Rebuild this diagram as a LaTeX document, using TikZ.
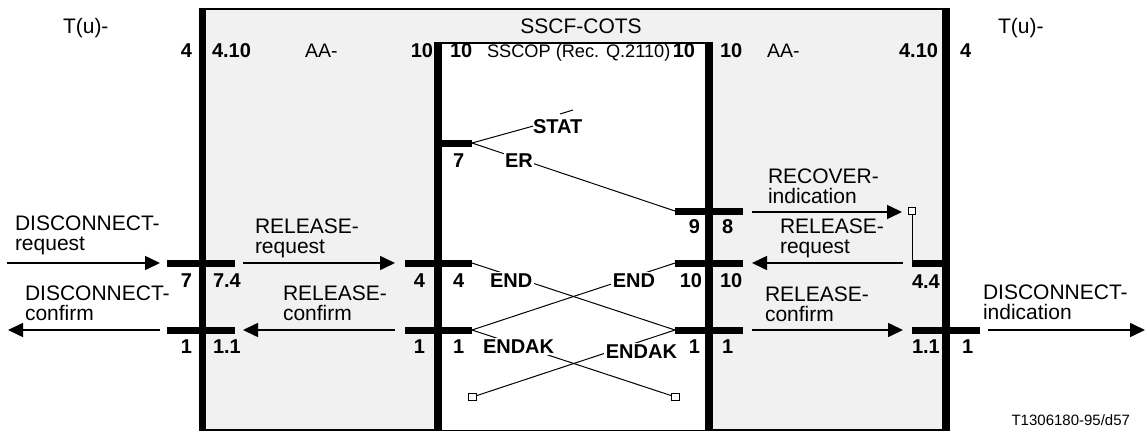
\documentclass[tikz,border=0pt]{standalone}
\usepackage{fontspec}
\setmainfont{Liberation Sans}
\usetikzlibrary{arrows.meta}
\definecolor{boxgray}{RGB}{241,241,241}
\newcommand{\twoln}[2]{\vbox{\hbox{#1}\hbox{#2}}}
\begin{document}
\begin{tikzpicture}[x=1pt,y=-1pt,
  every node/.style={inner sep=0pt,outer sep=0pt},
  reg/.style={font=\fontsize{21}{19.5}\selectfont},
  num/.style={font=\fontsize{20}{18}\selectfont\bfseries},
  lw/.style={anchor=base west},
  le/.style={anchor=base east},
  bar/.style={line width=7.5pt},
  stub/.style={line width=7pt},
  sig/.style={line width=1.6pt,-{Triangle[length=15pt,width=14pt]}},
  link/.style={line width=1pt},
  mask/.style={fill=white,inner sep=1.5pt},
  sq/.style={draw,fill=white,line width=0.9pt,minimum size=7.5pt,inner sep=0pt},
]
\useasboundingbox (0,0) rectangle (1147,439);
% frames
\fill[boxgray] (202,9) rectangle (946,430);
\draw[line width=2pt] (202,9) -- (946,9);
\draw[line width=2pt] (202,430) -- (946,430);
\fill[white] (438,43) rectangle (709,430);
\draw[line width=1.8pt] (438,43) -- (709,43);

% coordinates
\coordinate (s7) at (472,143);
\coordinate (s9) at (675,211);
\coordinate (iL4) at (472,263);
\coordinate (iL1) at (472,330);
\coordinate (iR10) at (675,263);
\coordinate (iR1) at (675,330);
\coordinate (r44) at (912,263);

% squares
\node[sq] (sqL) at (472.5,397) {};
\node[sq] (sqR) at (675.5,397) {};
\node[sq] (sqT) at (912,211) {};

% links
\node[num,lw] (stat) at (533,133) {STAT};
\draw[link] (s7) -- (stat.west);
\draw[link] (560,114) -- (573,110);
\draw[link] (s7) -- (s9);
\draw[link] (iL4) -- (iR1);
\draw[link] (iR10) -- (iL1);
\draw[link] (iL1) -- (sqR);
\draw[link] (iR1) -- (sqL);
\draw[link] (sqT) -- (r44);

% arrows
\coordinate (a1s) at (7,263);   \coordinate (a1e) at (160,263);
\coordinate (a2s) at (243,263); \coordinate (a2e) at (395,263);
\coordinate (a3s) at (160,330); \coordinate (a3e) at (8,330);
\coordinate (a4s) at (395,330); \coordinate (a4e) at (243,330);
\coordinate (a5s) at (752,212); \coordinate (a5e) at (902,212);
\coordinate (a6s) at (903,263); \coordinate (a6e) at (752,263);
\coordinate (a7s) at (752,330); \coordinate (a7e) at (903,330);
\coordinate (a8s) at (988,330); \coordinate (a8e) at (1145,330);
\foreach \i in {1,...,8} \draw[sig] (a\i s) -- (a\i e);

% bars
\draw[bar] (202.5,8) -- (202.5,431);
\draw[bar] (438,42) -- (438,431);
\draw[bar] (709,42) -- (709,431);
\draw[bar] (946,8) -- (946,431);

% stubs
\draw[stub] (167,263) -- (235,263);
\draw[stub] (167,330) -- (235,330);
\draw[stub] (438,143) -- (s7);
\draw[stub] (405,263) -- (iL4);
\draw[stub] (405,330) -- (iL1);
\draw[stub] (s9) -- (743,211);
\draw[stub] (iR10) -- (743,263);
\draw[stub] (iR1) -- (743,330);
\draw[stub] (r44) -- (946,263);
\draw[stub] (912,330) -- (980,330);

% top labels
\node[reg,lw] (tuL) at (63,33) {T(u)-};
\node[reg,lw] (tuR) at (998,33) {T(u)-};
\node[reg,anchor=base] (sscf) at (581,33) {SSCF-COTS};
\node[num,le] (t1) at (192,57) {4};
\node[num,lw] (t2) at (212,57) {4.10};
\node[font=\fontsize{19.5}{18}\selectfont,lw] (t3) at (305,57) {AA-};
\node[num,le] (t4) at (433,57) {10};
\node[num,lw] (t5) at (450,57) {10};
\node[font=\fontsize{18.2}{18}\selectfont,lw] (t6) at (487,57) {SSCOP (Rec. Q.2110)};
\node[num,le] (t7) at (695,57) {10};
\node[num,lw] (t8) at (720,57) {10};
\node[font=\fontsize{19.5}{18}\selectfont,lw] (t9) at (767,57) {AA-};
\node[num,le] (t10) at (938,57) {4.10};
\node[num,lw] (t11) at (960,57) {4};

% numbers
\node[num,lw] (n7) at (453,167) {7};
\node[num,le] (n9) at (700,233) {9};
\node[num,lw] (n8) at (722,233) {8};
\node[num,le] (m1) at (192,287) {7};
\node[num,lw] (m2) at (213,287) {7.4};
\node[num,le] (m3) at (425,287) {4};
\node[num,lw] (m4) at (453,287) {4};
\node[num,le] (m5) at (702,287) {10};
\node[num,lw] (m6) at (720,287) {10};
\node[num,lw] (m7) at (912,288) {4.4};
\node[num,le] (b1) at (192,353) {1};
\node[num,lw] (b2) at (213,353) {1.1};
\node[num,le] (b3) at (425,353) {1};
\node[num,lw] (b4) at (453,353) {1};
\node[num,le] (b5) at (700,353) {1};
\node[num,lw] (b6) at (722,353) {1};
\node[num,lw] (b7) at (912,353) {1.1};
\node[num,lw] (b8) at (962,353) {1};

% masked labels on links
\node[num,lw,mask] (er) at (503.5,167) {ER};
\node[num,lw,mask] (endL) at (488.5,287) {END};
\node[num,le,mask] (endR) at (656.5,287) {END};
\node[num,lw,mask] (endakL) at (481.5,353) {ENDAK};
\node[num,le,mask] (endakR) at (678.5,358) {ENDAK};

% signal labels
\node[reg,lw] (dreq) at (15,250) {\twoln{DISCONNECT-}{request}};
\node[reg,lw] (rreqL) at (255,253) {\twoln{RELEASE-}{request}};
\node[reg,lw] (dcon) at (25,320) {\twoln{DISCONNECT-}{confirm}};
\node[reg,lw] (rconL) at (283,320) {\twoln{RELEASE-}{confirm}};
\node[reg,lw] (recov) at (768,203) {\twoln{RECOVER-}{indication}};
\node[reg,lw] (rreqR) at (780,253) {\twoln{RELEASE-}{request}};
\node[reg,lw] (rconR) at (765,321) {\twoln{RELEASE-}{confirm}};
\node[reg,lw] (dind) at (983,319) {\twoln{DISCONNECT-}{indication}};

\node[font=\fontsize{15}{15}\selectfont,le] (tag) at (1130,425) {T1306180-95/d57};
\end{tikzpicture}
\end{document}
